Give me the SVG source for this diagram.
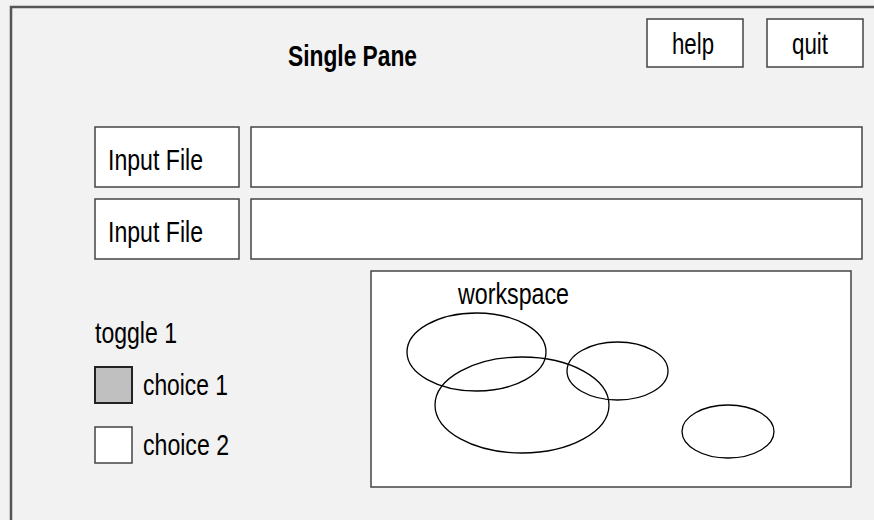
<svg xmlns="http://www.w3.org/2000/svg" width="874" height="520" viewBox="0 0 874 520">
<style>
.bg{fill:#f2f2f2}
.frame{fill:#f2f2f2;stroke:#555;stroke-width:2.5}
.box{fill:#fff;stroke:#444;stroke-width:1.5}
.ell{fill:none;stroke:#000;stroke-width:1.3}
.t{font-family:"Liberation Sans Narrow","Liberation Sans",Arial,sans-serif;font-size:29px;fill:#000}
.b{font-weight:bold}
</style>
<rect class="bg" x="0" y="0" width="874" height="520"/>
<g id="pane">
<rect class="frame" x="11" y="7" width="900" height="560"/>
<text class="t b" x="288" y="66" textLength="129" lengthAdjust="spacingAndGlyphs">Single Pane</text>
</g>
<g id="help">
<rect class="box" x="647" y="19" width="96" height="48"/>
<text class="t" x="672" y="54" textLength="42" lengthAdjust="spacingAndGlyphs">help</text>
</g>
<g id="quit">
<rect class="box" x="767" y="19" width="96" height="48"/>
<text class="t" x="792" y="54" textLength="36" lengthAdjust="spacingAndGlyphs">quit</text>
</g>
<g id="input1">
<rect class="box" x="95" y="127" width="144" height="60"/>
<text class="t" x="108" y="170" textLength="95" lengthAdjust="spacingAndGlyphs">Input File</text>
</g>
<g id="field1">
<rect class="box" x="251" y="127" width="611" height="60"/>
</g>
<g id="input2">
<rect class="box" x="95" y="199" width="144" height="60"/>
<text class="t" x="108" y="242" textLength="95" lengthAdjust="spacingAndGlyphs">Input File</text>
</g>
<g id="field2">
<rect class="box" x="251" y="199" width="611" height="60"/>
</g>
<g id="toggle">
<text class="t" x="95" y="343" textLength="82" lengthAdjust="spacingAndGlyphs">toggle 1</text>
</g>
<g id="choice1">
<rect x="95" y="367" width="37" height="36" fill="#c0c0c0" stroke="#222" stroke-width="2"/>
<text class="t" x="143" y="395" textLength="85" lengthAdjust="spacingAndGlyphs">choice 1</text>
</g>
<g id="choice2">
<rect class="box" x="95" y="427" width="37" height="36"/>
<text class="t" x="143" y="455" textLength="86" lengthAdjust="spacingAndGlyphs">choice 2</text>
</g>
<g id="workspace">
<rect class="box" x="371" y="271" width="480" height="216"/>
<text class="t" x="458" y="304" textLength="111" lengthAdjust="spacingAndGlyphs">workspace</text>
<ellipse class="ell" cx="476.5" cy="352" rx="69.5" ry="39"/>
<ellipse class="ell" cx="522" cy="405" rx="87" ry="48"/>
<ellipse class="ell" cx="617.5" cy="371" rx="50.5" ry="29"/>
<ellipse class="ell" cx="728" cy="431.5" rx="46" ry="26.5"/>
</g>
<g id="connectors"/>
</svg>
